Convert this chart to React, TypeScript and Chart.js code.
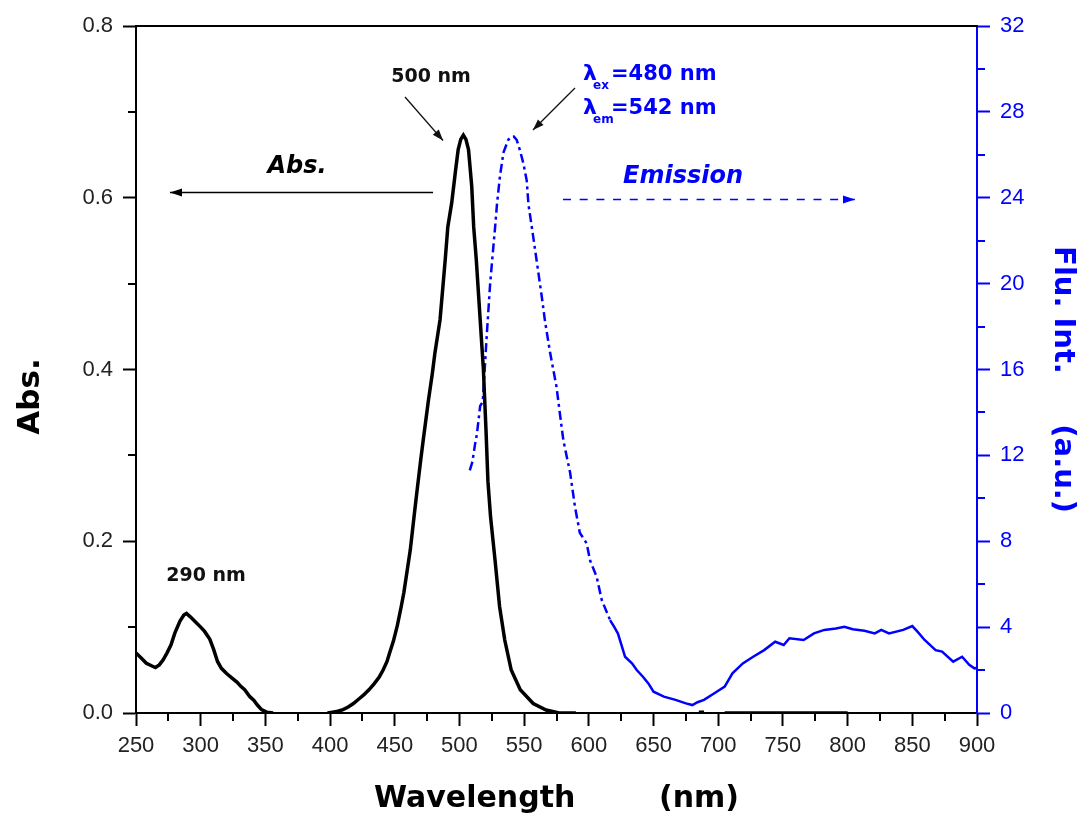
import React, { useEffect, useRef } from "react";
import { Chart, registerables } from "chart.js";

Chart.register(...registerables);

// ---------- data ----------
const absWl: number[] = [
  250, 254, 258, 262, 265, 268, 271, 274, 277, 280, 284, 287, 289, 292, 296, 300, 303, 307, 310, 313, 316, 320,
  324, 328, 331, 334, 338, 341, 344, 347, 351, 356, 370, 398, 402, 406, 410, 414, 418, 422, 426, 430, 434, 438,
  441, 444, 446, 449, 452, 455, 457, 460, 462, 465, 467, 470, 472, 476, 479, 481, 485, 489, 491, 494, 497, 499,
  501, 503, 505, 507, 509.5, 511, 513, 516, 518.5, 520.5, 522, 524, 527.5, 531, 535, 540, 547, 557, 567, 577, 590,
  600, 685, 689, 695, 705, 800,
];
const absVal: (number | null)[] = [
  0.07, 0.064, 0.058, 0.055, 0.053, 0.056, 0.062, 0.07, 0.079, 0.093, 0.107, 0.114, 0.116, 0.112, 0.106, 0.1, 0.095,
  0.086, 0.074, 0.06, 0.052, 0.046, 0.041, 0.036, 0.031, 0.027, 0.019, 0.015, 0.009, 0.004, 0.001, 0.0, null, 0.0,
  0.001, 0.002, 0.004, 0.007, 0.011, 0.016, 0.021, 0.027, 0.034, 0.042, 0.05, 0.06, 0.07, 0.084, 0.102, 0.124, 0.14,
  0.17, 0.19, 0.23, 0.256, 0.294, 0.318, 0.364, 0.395, 0.419, 0.458, 0.528, 0.566, 0.594, 0.632, 0.656, 0.668, 0.673,
  0.668, 0.656, 0.613, 0.566, 0.528, 0.458, 0.4, 0.33, 0.27, 0.229, 0.178, 0.124, 0.085, 0.05, 0.027, 0.011, 0.0035,
  0.0, 0.0, null, 0.001, 0.001, null, 0.0, 0.0,
];

const emWl: number[] = [
  508, 510, 512, 513.5, 516, 518, 521, 523.6, 525, 527.5, 529, 531.3, 534, 537.7, 540.4, 542, 544.2, 546.8, 549.4,
  552, 553.3, 556, 558.4, 561, 563.6, 566, 570, 575, 577.5, 580.3, 585.5, 589.3, 593, 598.3, 601, 606, 610, 616.4,
  619.7, 622.5, 628, 633.5, 637, 641.8, 646, 650, 658, 667, 675, 680, 684, 689, 697, 705, 711, 719, 727, 735.5, 744,
  750.6, 755, 766, 774, 782, 791, 797.5, 804, 813, 821, 826, 832, 843, 850, 854, 859.5, 868, 873, 881.6, 888.5, 894,
  898, 900,
];
const emVal: number[] = [
  11.3, 11.7, 12.5, 13.0, 14.3, 14.5, 17.5, 19.9, 20.9, 22.6, 23.7, 25.0, 26.1, 26.7, 26.85, 26.85, 26.7, 26.2, 25.6,
  24.8, 23.7, 22.6, 21.6, 20.5, 19.4, 18.3, 16.8, 15.2, 14.0, 12.7, 11.2, 9.6, 8.4, 7.9, 7.1, 6.35, 5.26, 4.33, 4.0,
  3.7, 2.62, 2.3, 2.0, 1.69, 1.38, 0.99, 0.76, 0.61, 0.45, 0.37, 0.5, 0.61, 0.92, 1.23, 1.85, 2.31, 2.62, 2.93, 3.32,
  3.17, 3.48, 3.4, 3.71, 3.87, 3.94, 4.02, 3.9, 3.83, 3.71, 3.87, 3.71, 3.87, 4.05, 3.79, 3.4, 2.93, 2.86, 2.39, 2.62,
  2.24, 2.08, 2.1,
];

const xRange = [250, 900];
const absRange = [0, 0.8];
const fluRange = [0, 32];

const BLUE = "#0000ff";
const TICK_FONT = "'Liberation Sans', Arial, sans-serif";
const TITLE_FONT = "'DejaVu Sans', sans-serif";

// annotation anchors in data units: [wavelength, abs value]
const peakLabels = [
  { text: "500 nm", at: [478, 0.7406] },
  { text: "290 nm", at: [304.1, 0.159] },
];

const decorPlugin = {
  id: "decor",
  afterDraw(chart: any) {
    const { ctx, chartArea: a, scales } = chart;
    const x = scales.x, y = scales.y, y1 = scales.y1;
    const px = (v: number) => x.getPixelForValue(v);
    const py = (v: number) => y.getPixelForValue(v);
    ctx.save();
    // top frame
    ctx.strokeStyle = "#000";
    ctx.lineWidth = 2;
    ctx.beginPath();
    ctx.moveTo(a.left, a.top);
    ctx.lineTo(a.right + 1, a.top);
    ctx.stroke();

    // minor ticks
    const ml = 8;
    ctx.lineWidth = 2;
    ctx.strokeStyle = "#000";
    ctx.beginPath();
    for (let v = xRange[0] + 25; v < xRange[1]; v += 50) {
      const p = Math.round(px(v));
      ctx.moveTo(p, a.bottom);
      ctx.lineTo(p, a.bottom + ml);
    }
    for (let v = 0.1; v < absRange[1]; v += 0.2) {
      const p = Math.round(py(v));
      ctx.moveTo(a.left, p);
      ctx.lineTo(a.left - ml, p);
    }
    ctx.stroke();
    ctx.strokeStyle = BLUE;
    ctx.beginPath();
    for (let v = 2; v < fluRange[1]; v += 4) {
      const p = Math.round(y1.getPixelForValue(v));
      ctx.moveTo(a.right, p);
      ctx.lineTo(a.right + ml, p);
    }
    ctx.stroke();

    const arrow = (x0: number, y0: number, x1: number, y1p: number, color: string, lw: number, dash: number[], hl: number, hw: number) => {
      ctx.strokeStyle = color;
      ctx.fillStyle = color;
      ctx.lineWidth = lw;
      ctx.setLineDash(dash);
      ctx.beginPath();
      ctx.moveTo(x0, y0);
      ctx.lineTo(x1, y1p);
      ctx.stroke();
      ctx.setLineDash([]);
      const ang = Math.atan2(y1p - y0, x1 - x0);
      ctx.beginPath();
      ctx.moveTo(x1, y1p);
      ctx.lineTo(x1 - hl * Math.cos(ang) + hw * Math.sin(ang), y1p - hl * Math.sin(ang) - hw * Math.cos(ang));
      ctx.lineTo(x1 - hl * Math.cos(ang) - hw * Math.sin(ang), y1p - hl * Math.sin(ang) + hw * Math.cos(ang));
      ctx.closePath();
      ctx.fill();
    };

    // peak labels
    ctx.fillStyle = "#111";
    ctx.font = `bold 19px ${TITLE_FONT}`;
    ctx.textAlign = "center";
    ctx.textBaseline = "middle";
    for (const l of peakLabels) ctx.fillText(l.text, px(l.at[0]), py(l.at[1]));

    // arrow to absorption peak
    arrow(px(457.9), py(0.7173), px(487.3), py(0.6667), "#111", 1.3, [], 11, 4);

    // Abs. label and arrow
    ctx.fillStyle = "#000";
    ctx.font = `italic bold 24px ${TITLE_FONT}`;
    ctx.textAlign = "center";
    ctx.fillText("Abs.", px(374.4), py(0.6358));
    arrow(px(479.6), py(0.6061), px(276.3), py(0.6061), "#000", 1.5, [], 12, 4);

    // Emission label and dashed arrow
    ctx.fillStyle = BLUE;
    ctx.fillText("Emission", px(672.8), py(0.6242));
    arrow(px(580), py(0.598), px(805.7), py(0.598), BLUE, 1.5, [8, 8.7], 12, 4);

    // lambda labels
    const lam = (sub: string, rest: string, yv: number) => {
      const x0 = px(595.5);
      const yb = py(yv) + 8;
      ctx.fillStyle = BLUE;
      ctx.textAlign = "left";
      ctx.textBaseline = "alphabetic";
      ctx.font = `bold 22px ${TITLE_FONT}`;
      ctx.fillText("λ", x0, yb);
      ctx.font = `bold 12px ${TITLE_FONT}`;
      ctx.fillText(sub, x0 + 10, yb + 9);
      ctx.font = `bold 21px ${TITLE_FONT}`;
      ctx.fillText(rest, x0 + 28, yb);
    };
    lam("ex", "=480 nm", 0.7464);
    lam("em", "=542 nm", 0.7068);
    arrow(px(589.3), py(0.7278), px(556.8), py(0.6789), "#111", 1.3, [], 11, 4);

    ctx.restore();
  },
};

export default function App() {
  const ref = useRef<HTMLCanvasElement | null>(null);
  useEffect(() => {
    if (!ref.current) return;
    const absData = absWl.map((w, i) => ({ x: w, y: absVal[i] }));
    const emData = emWl.map((w, i) => ({ x: w, y: emVal[i] }));
    const chart = new Chart(ref.current, {
      type: "line",
      data: {
        datasets: [
          {
            label: "Abs.",
            data: absData as any,
            yAxisID: "y",
            borderColor: "#000",
            borderWidth: 3.5,
            pointRadius: 0,
            spanGaps: false,
            tension: 0,
          },
          {
            label: "Emission",
            data: emData as any,
            yAxisID: "y1",
            borderColor: BLUE,
            borderWidth: 2.5,
            pointRadius: 0,
            tension: 0,
            segment: {
              borderDash: (c: any) => (c.p0.parsed.x < 612 ? [9, 4, 3, 4] : []),
            },
          },
        ],
      },
      options: {
        animation: false,
        responsive: false,
        layout: { padding: { top: 26, left: 0, right: 0, bottom: 0 } },
        plugins: { legend: { display: false }, tooltip: { enabled: false } },
        scales: {
          x: {
            type: "linear",
            min: xRange[0],
            max: xRange[1],
            afterFit: (s: any) => {
              s.height = 105;
            },
            border: { color: "#000", width: 2 },
            grid: { drawOnChartArea: false, tickLength: 13, tickWidth: 2, tickColor: "#000" },
            ticks: {
              stepSize: 50,
              autoSkip: false,
              maxRotation: 0,
              padding: 7,
              color: "#222",
              font: { family: TICK_FONT, size: 22 },
            },
            title: {
              display: true,
              text: "Wavelength        (nm)",
              color: "#000",
              font: { family: TITLE_FONT, size: 30, weight: "bold" },
              padding: { top: 0, bottom: 1 },
            },
          },
          y: {
            position: "left",
            min: absRange[0],
            max: absRange[1],
            afterFit: (s: any) => {
              s.width = 136;
            },
            border: { color: "#000", width: 2 },
            grid: { drawOnChartArea: false, tickLength: 13, tickWidth: 2, tickColor: "#000" },
            ticks: {
              stepSize: 0.2,
              padding: 10,
              color: "#222",
              font: { family: TICK_FONT, size: 22 },
              callback: (v: any) => Number(v).toFixed(1),
            },
            title: {
              display: true,
              text: "Abs.     ",
              color: "#000",
              font: { family: TITLE_FONT, size: 31, weight: "bold" },
              padding: { top: 12, bottom: 0 },
            },
          },
          y1: {
            position: "right",
            min: fluRange[0],
            max: fluRange[1],
            afterFit: (s: any) => {
              s.width = 107;
            },
            border: { color: BLUE, width: 2 },
            grid: { drawOnChartArea: false, tickLength: 13, tickWidth: 2, tickColor: BLUE },
            ticks: {
              stepSize: 4,
              padding: 10,
              color: BLUE,
              font: { family: TICK_FONT, size: 22 },
            },
            title: {
              display: true,
              text: "  Flu. Int.     (a.u.)",
              color: BLUE,
              font: { family: TITLE_FONT, size: 29, weight: "bold" },
              padding: { top: 4, bottom: 0 },
            },
          },
        },
      },
      plugins: [decorPlugin],
    });
    return () => chart.destroy();
  }, []);
  return (
    <div style={{ position: "fixed", left: 0, top: 0, width: 1084, height: 818, background: "#fff" }}>
      <canvas ref={ref} width={1084} height={818} />
    </div>
  );
}
